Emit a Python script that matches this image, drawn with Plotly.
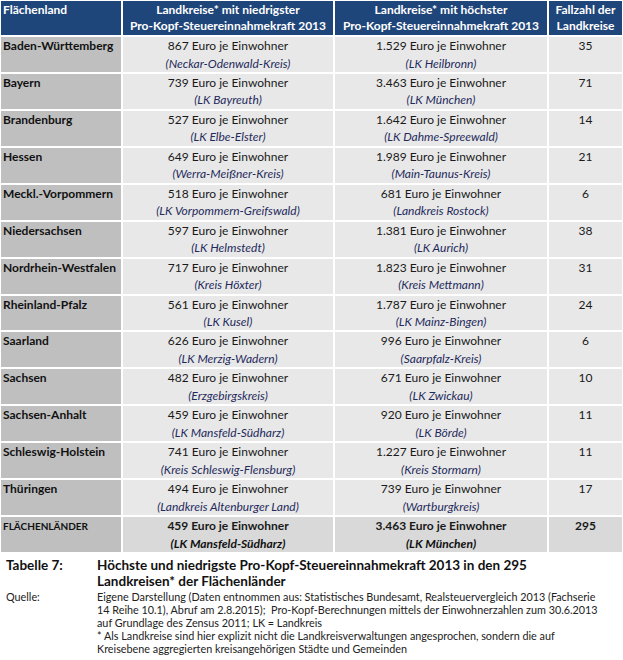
import plotly.graph_objects as go

states = ["Baden-Württemberg", "Bayern", "Brandenburg", "Hessen", "Meckl.-Vorpommern",
          "Niedersachsen", "Nordrhein-Westfalen", "Rheinland-Pfalz", "Saarland", "Sachsen",
          "Sachsen-Anhalt", "Schleswig-Holstein", "Thüringen"]
low_values = [867, 739, 527, 649, 518, 597, 717, 561, 626, 482, 459, 741, 494]
low_names = ["Neckar-Odenwald-Kreis", "LK Bayreuth", "LK Elbe-Elster", "Werra-Meißner-Kreis",
             "LK Vorpommern-Greifswald", "LK Helmstedt", "Kreis Höxter", "LK Kusel",
             "LK Merzig-Wadern", "Erzgebirgskreis", "LK Mansfeld-Südharz",
             "Kreis Schleswig-Flensburg", "Landkreis Altenburger Land"]
high_values = [1529, 3463, 1642, 1989, 681, 1381, 1823, 1787, 996, 671, 920, 1227, 739]
high_names = ["LK Heilbronn", "LK München", "LK Dahme-Spreewald", "Main-Taunus-Kreis",
              "Landkreis Rostock", "LK Aurich", "Kreis Mettmann", "LK Mainz-Bingen",
              "Saarpfalz-Kreis", "LK Zwickau", "LK Börde", "Kreis Stormarn", "Wartburgkreis"]
counts = [35, 71, 14, 21, 6, 38, 31, 24, 6, 10, 11, 11, 17]

total_label = "FLÄCHENLÄNDER"
total_low_value, total_low_name = 459, "LK Mansfeld-Südharz"
total_high_value, total_high_name = 3463, "LK München"
total_count = 295

header_line1 = ["Flächenland", "Landkreise* mit niedrigster", "Landkreise* mit höchster", "Fallzahl der"]
header_line2 = ["", "Pro-Kopf-Steuereinnahmekraft 2013", "Pro-Kopf-Steuereinnahmekraft 2013", "Landkreise"]

caption_label = "Tabelle 7:"
caption_lines = ["Höchste und niedrigste Pro-Kopf-Steuereinnahmekraft 2013 in den 295",
                 "Landkreisen* der Flächenländer"]
source_label = "Quelle:"
source_lines = [
    "Eigene Darstellung (Daten entnommen aus: Statistisches Bundesamt, Realsteuervergleich 2013 (Fachserie",
    "14 Reihe 10.1), Abruf am 2.8.2015);  Pro-Kopf-Berechnungen mittels der Einwohnerzahlen zum 30.6.2013",
    "auf Grundlage des Zensus 2011; LK = Landkreis",
    "* Als Landkreise sind hier explizit nicht die Landkreisverwaltungen angesprochen, sondern die auf",
    "Kreisebene aggregierten kreisangehörigen Städte und Gemeinden",
]

# ---------------- layout geometry (pixels) ----------------
W, H = 623, 660
col_edges = [0, 122, 334, 548, 623]
col_centers = [(a + b) / 2 for a, b in zip(col_edges[:-1], col_edges[1:])]
HEADER_H = 36
ROW_H = 36.93
n_rows = len(states) + 1
row_edges = [0, HEADER_H] + [HEADER_H + (i + 1) * ROW_H for i in range(n_rows)]
row_tops = row_edges[1:-1]

FONT = "Lato"
BLUE = "#1F467A"
GREY = "#BFBFBF"
LIGHT = "#E8E8E8"
TOTAL = "#D9D9D9"
NAME_COL = "#1F2A5C"
TEXT_COL = "#1A1A1A"


def fmt(v):
    return f"{v:,}".replace(",", ".")


# cell colour categories: 0 header, 1 grey first col, 2 light, 3 total row
z = [[0, 0, 0, 0]]
for i in range(n_rows):
    if i < n_rows - 1:
        z.append([1, 2, 2, 2])
    else:
        z.append([1, 3, 3, 3])

fig = go.Figure()
fig.add_trace(go.Heatmap(
    x=col_edges, y=row_edges, z=z,
    zmin=0, zmax=3,
    colorscale=[[0, BLUE], [0.25, BLUE], [0.25, GREY], [0.5, GREY],
                [0.5, LIGHT], [0.75, LIGHT], [0.75, TOTAL], [1, TOTAL]],
    showscale=False, xgap=2, ygap=2, hoverinfo="skip",
))


def add_text(xs, ys, texts, pos, size=12, color=TEXT_COL):
    fig.add_trace(go.Scatter(
        x=xs, y=ys, text=texts, mode="text", textposition=pos,
        textfont=dict(family=FONT, size=size, color=color),
        hoverinfo="skip", showlegend=False,
    ))


# header
add_text([3], [10.5], [f"<b>{header_line1[0]}</b>"], "middle right", color="white")
add_text(col_centers[1:], [10.5] * 3, [f"<b>{t}</b>" for t in header_line1[1:]], "middle center", color="white")
add_text(col_centers[1:], [27] * 3, [f"<b>{t}</b>" for t in header_line2[1:]], "middle center", color="white")

line1_y = [t + 11 for t in row_tops]
line2_y = [t + 28.5 for t in row_tops]
k = len(states)

# first column
add_text([3] * k, line1_y[:k], [f"<b>{s}</b>" for s in states], "middle right", color="#111111")
add_text([3], [line1_y[k]], [f"<b>{total_label}</b>"], "middle right", size=10, color="#111111")

# low / high columns
add_text([col_centers[1]] * k, line1_y[:k], [f"{fmt(v)} Euro je Einwohner" for v in low_values], "middle center")
add_text([col_centers[1]] * k, line2_y[:k], [f"<i>({s})</i>" for s in low_names], "middle center", color=NAME_COL)
add_text([col_centers[2]] * k, line1_y[:k], [f"{fmt(v)} Euro je Einwohner" for v in high_values], "middle center")
add_text([col_centers[2]] * k, line2_y[:k], [f"<i>({s})</i>" for s in high_names], "middle center", color=NAME_COL)
add_text([col_centers[1], col_centers[2]], [line1_y[k]] * 2,
         [f"<b>{fmt(total_low_value)} Euro je Einwohner</b>", f"<b>{fmt(total_high_value)} Euro je Einwohner</b>"],
         "middle center")
add_text([col_centers[1], col_centers[2]], [line2_y[k]] * 2,
         [f"<b><i>({total_low_name})</i></b>", f"<b><i>({total_high_name})</i></b>"],
         "middle center", color="#111111")

# counts
add_text([col_centers[3]] * k, line1_y[:k], [str(c) for c in counts], "middle center")
add_text([col_centers[3]], [line1_y[k]], [f"<b>{total_count}</b>"], "middle center")

# caption and source (annotations in the same pixel axes)
annotations = []
cap_font = dict(family=FONT, size=13.5, color="#111111")
src_font = dict(family=FONT, size=10.8, color="#222222")
annotations.append(dict(x=4, y=565, text=f"<b>{caption_label}</b>", font=cap_font))
for i, line in enumerate(caption_lines):
    annotations.append(dict(x=95, y=565 + i * 16, text=f"<b>{line}</b>", font=cap_font))
annotations.append(dict(x=4, y=596, text=source_label, font=src_font))
for i, line in enumerate(source_lines):
    annotations.append(dict(x=95, y=596 + i * 13, text=line, font=src_font))
for a in annotations:
    a.update(xref="x", yref="y", showarrow=False, xanchor="left", yanchor="middle", align="left")

fig.update_layout(
    width=W, height=H,
    margin=dict(l=0, r=0, t=0, b=0),
    paper_bgcolor="white", plot_bgcolor="white",
    xaxis=dict(range=[0, W], visible=False, fixedrange=True),
    yaxis=dict(range=[H, 0], visible=False, fixedrange=True),
    annotations=annotations,
    showlegend=False,
)

fig.write_html("out.html", config={"displayModeBar": False},
               post_script="document.body.style.margin='0';")
